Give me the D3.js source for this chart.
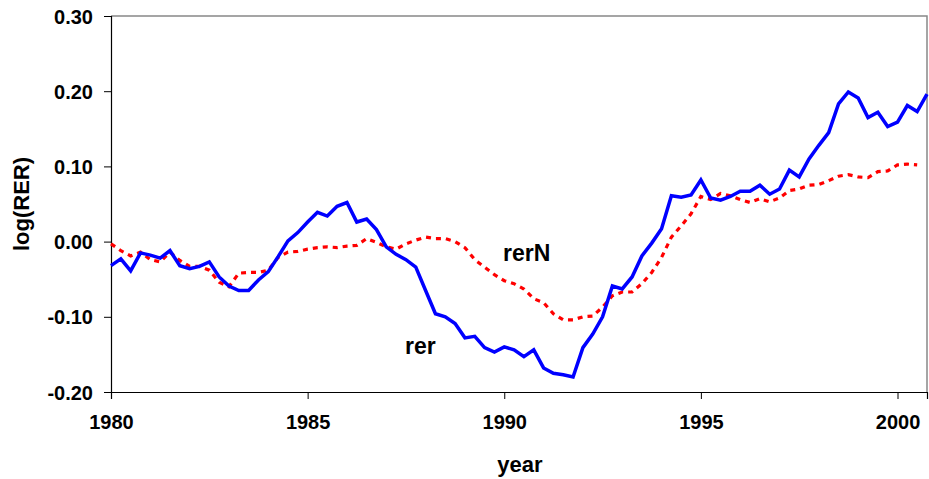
<!DOCTYPE html>
<html>
<head>
<meta charset="utf-8">
<script src="https://cdn.jsdelivr.net/npm/d3@7"></script>
<style>
    body { margin: 0; background: #fff; }
    text { font-family: "Liberation Sans", Arial, sans-serif; font-weight: bold; fill: #000; }
</style>
</head>
<body>
<script>
//quarterly log real exchange rate, 1980Q1 onwards

//pseudo global data arrays
var rer = [-0.032, -0.023, -0.039, -0.015, -0.018, -0.022, -0.012, -0.032, -0.036, -0.033,
    -0.027, -0.047, -0.059, -0.065, -0.065, -0.051, -0.040, -0.020, 0.001, 0.012,
    0.026, 0.039, 0.034, 0.047, 0.052, 0.026, 0.030, 0.016, -0.007, -0.017,
    -0.024, -0.034, -0.065, -0.096, -0.100, -0.109, -0.128, -0.126, -0.141, -0.147,
    -0.140, -0.144, -0.153, -0.144, -0.168, -0.175, -0.177, -0.180, -0.141, -0.123,
    -0.100, -0.059, -0.063, -0.047, -0.019, -0.002, 0.017, 0.061, 0.059, 0.062,
    0.082, 0.058, 0.055, 0.060, 0.067, 0.067, 0.075, 0.063, 0.070, 0.095,
    0.086, 0.110, 0.128, 0.145, 0.183, 0.199, 0.191, 0.165, 0.172, 0.153,
    0.159, 0.181, 0.173, 0.196];

var rerN = [-0.003, -0.012, -0.019, -0.014, -0.024, -0.027, -0.014, -0.025, -0.033, -0.033,
    -0.038, -0.054, -0.060, -0.042, -0.041, -0.041, -0.038, -0.021, -0.014, -0.013,
    -0.010, -0.008, -0.007, -0.008, -0.006, -0.005, 0.004, -0.001, -0.007, -0.010,
    -0.003, 0.002, 0.006, 0.004, 0.004, 0.000, -0.008, -0.024, -0.034, -0.044,
    -0.052, -0.056, -0.063, -0.076, -0.081, -0.096, -0.104, -0.104, -0.100, -0.099,
    -0.087, -0.072, -0.067, -0.067, -0.056, -0.041, -0.021, 0.006, 0.021, 0.037,
    0.060, 0.056, 0.064, 0.061, 0.056, 0.052, 0.057, 0.053, 0.058, 0.068,
    0.070, 0.075, 0.076, 0.081, 0.087, 0.089, 0.086, 0.085, 0.093, 0.094,
    0.102, 0.103, 0.102];

var xTicks = [1980, 1985, 1990, 1995, 2000];
var yTicks = [-0.20, -0.10, 0.00, 0.10, 0.20, 0.30];
var startYear = 1980;

window.onload = setChart();

function setChart(){
    var width = 929,
        height = 479,
        left = 111,
        right = 927,
        top = 16,
        bottom = 392;

    var svg = d3.select("body")
        .append("svg")
        .attr("width", width)
        .attr("height", height);

    //scales: quarters on x, log(RER) on y
    var x = d3.scaleLinear()
        .domain([startYear, startYear + 20.75])
        .range([left, right]);

    var y = d3.scaleLinear()
        .domain([-0.20, 0.30])
        .range([bottom, top]);

    //plot frame, grey on top and right
    svg.append("path")
        .attr("d", "M" + left + "," + top + "H" + right + "V" + bottom)
        .attr("fill", "none")
        .attr("stroke", "#888")
        .attr("stroke-width", 1.5);

    //y axis, plain hyphen for minus like the original
    var fmt = d3.format(".2f");
    var yAxis = svg.append("g")
        .attr("transform", "translate(" + left + ",0)")
        .call(d3.axisLeft(y)
            .tickValues(yTicks)
            .tickSize(7)
            .tickPadding(11)
            .tickFormat(function(d){ return fmt(d).replace("\u2212", "-"); }));

    //x axis
    var xAxis = svg.append("g")
        .attr("transform", "translate(0," + bottom + ")")
        .call(d3.axisBottom(x)
            .tickValues(xTicks)
            .tickSize(7)
            .tickPadding(16)
            .tickFormat(d3.format("d")));

    svg.selectAll(".domain").attr("stroke", "#000").attr("stroke-width", 1.2);
    svg.selectAll(".tick line").attr("stroke", "#000");
    svg.selectAll(".tick text")
        .style("font-size", "20px")
        .style("font-family", "Liberation Sans, Arial, sans-serif")
        .style("font-weight", "bold");
    yAxis.selectAll("text").attr("dy", "0.35em");

    //lines
    var line = d3.line()
        .x(function(d, i){ return x(startYear + i / 4); })
        .y(function(d){ return y(d); });

    svg.append("path")
        .datum(rerN)
        .attr("d", line)
        .attr("fill", "none")
        .attr("stroke", "#ff0000")
        .attr("stroke-width", 3.2)
        .attr("stroke-dasharray", "5,5");

    svg.append("path")
        .datum(rer)
        .attr("d", line)
        .attr("fill", "none")
        .attr("stroke", "#0000ff")
        .attr("stroke-width", 3.5)
        .attr("stroke-linejoin", "miter");

    //series labels
    svg.append("text")
        .attr("x", 405)
        .attr("y", 354)
        .style("font-size", "23px")
        .text("rer");

    svg.append("text")
        .attr("x", 503)
        .attr("y", 261)
        .style("font-size", "23px")
        .text("rerN");

    //axis titles
    svg.append("text")
        .attr("transform", "translate(29,204) rotate(-90)")
        .attr("text-anchor", "middle")
        .style("font-size", "22px")
        .text("log(RER)");

    svg.append("text")
        .attr("x", 520)
        .attr("y", 472)
        .attr("text-anchor", "middle")
        .style("font-size", "22px")
        .text("year");
};
</script>
</body>
</html>
